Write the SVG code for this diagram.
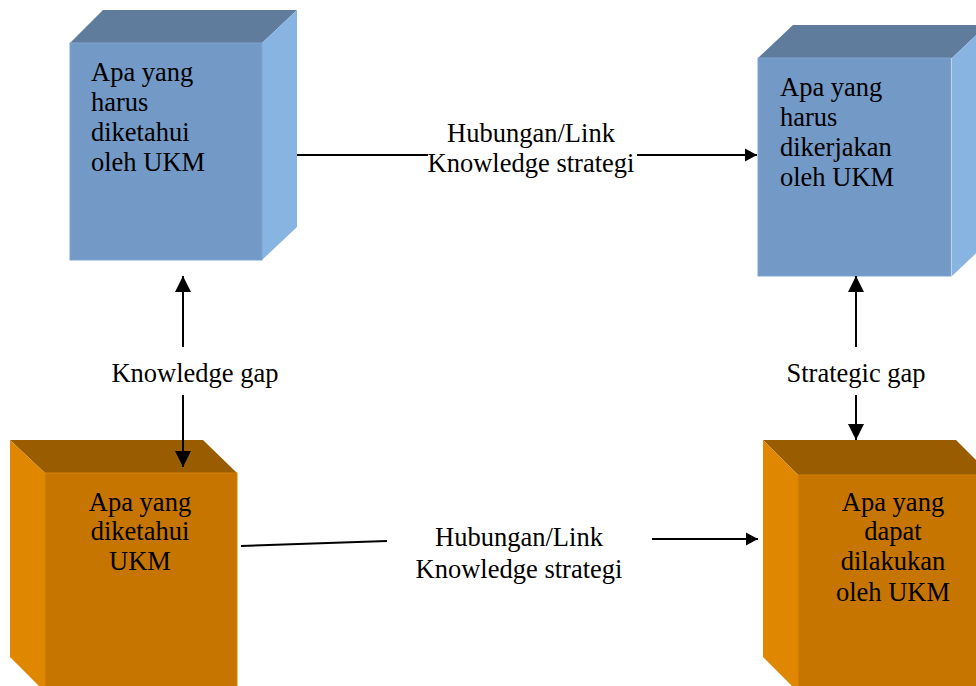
<svg xmlns="http://www.w3.org/2000/svg" width="976" height="686" viewBox="0 0 976 686">
<defs>
<style>
.t{font-family:"Liberation Serif","Times New Roman",serif;font-size:26.5px;fill:#000}
.c{text-anchor:middle}
.bf{fill:#7399C6;stroke:#7FA5D2;stroke-width:1}
.bt{fill:#5F7C9D}
.bs{fill:#88B4E2}
.of{fill:#C67500;stroke:#D98300;stroke-width:1}
.ot{fill:#995D00}
.os{fill:#E08700}
.ln{stroke:#000;stroke-width:2;fill:none}
</style>
<marker id="ah" markerUnits="userSpaceOnUse" markerWidth="13" markerHeight="14" refX="12" refY="7" orient="auto">
<path d="M0,0.5 L12,7 L0,13.5 Z" fill="#000"/>
</marker>
<marker id="av" markerUnits="userSpaceOnUse" markerWidth="17" markerHeight="18" refX="16" refY="9" orient="auto">
<path d="M0,1 L16,9 L0,17 Z" fill="#000"/>
</marker>
</defs>
<rect width="976" height="686" fill="#fff"/>

<g id="node-harus-diketahui" font-family="Liberation Serif, serif">
<polygon class="bt" points="103,10 297,10 262,43 70,43"/>
<polygon class="bs" points="262,43 297,10 297,227 262,260"/>
<rect class="bf" x="70" y="43" width="192" height="217"/>
<text class="t" x="91" y="81">Apa yang</text>
<text class="t" x="91" y="111">harus</text>
<text class="t" x="91" y="141">diketahui</text>
<text class="t" x="91" y="171">oleh UKM</text>
</g>

<g id="node-harus-dikerjakan" font-family="Liberation Serif, serif">
<polygon class="bt" points="793,25 987,25 952,58 758,58"/>
<polygon class="bs" points="952,58 987,25 987,243 952,276"/>
<rect class="bf" x="758" y="58" width="193" height="218"/>
<text class="t" x="780" y="96">Apa yang</text>
<text class="t" x="780" y="126">harus</text>
<text class="t" x="780" y="156">dikerjakan</text>
<text class="t" x="780" y="186">oleh UKM</text>
</g>

<g id="node-diketahui" font-family="Liberation Serif, serif">
<polygon class="ot" points="10,440 203,440 237,473 45,473"/>
<polygon class="os" points="10,440 45,473 45,692 10,657"/>
<rect class="of" x="45" y="473" width="192" height="220"/>
<text class="t c" x="140" y="511">Apa yang</text>
<text class="t c" x="140" y="540">diketahui</text>
<text class="t c" x="140" y="570">UKM</text>
</g>

<g id="node-dapat-dilakukan" font-family="Liberation Serif, serif">
<polygon class="ot" points="763,440 956,440 991,475 798,475"/>
<polygon class="os" points="763,440 798,475 798,692 763,657"/>
<rect class="of" x="798" y="475" width="193" height="218"/>
<text class="t c" x="893" y="511">Apa yang</text>
<text class="t c" x="893" y="540">dapat</text>
<text class="t c" x="893" y="570">dilakukan</text>
<text class="t c" x="893" y="601">oleh UKM</text>
</g>

<g id="connectors" font-family="Liberation Serif, serif">
<line class="ln" x1="297" y1="155" x2="428" y2="155"/>
<line class="ln" x1="637" y1="155" x2="757" y2="155" marker-end="url(#ah)"/>
<line class="ln" x1="241" y1="546" x2="387" y2="541"/>
<line class="ln" x1="652" y1="539" x2="758" y2="539" marker-end="url(#ah)"/>
<line class="ln" x1="183" y1="347" x2="183" y2="276" marker-end="url(#av)"/>
<line class="ln" x1="183" y1="395" x2="183" y2="467" marker-end="url(#av)"/>
<line class="ln" x1="856" y1="347" x2="856" y2="276" marker-end="url(#av)"/>
<line class="ln" x1="856" y1="395" x2="856" y2="440" marker-end="url(#av)"/>
<text class="t c" x="531" y="142">Hubungan/Link</text>
<text class="t c" x="531" y="172">Knowledge strategi</text>
<text class="t c" x="519" y="546">Hubungan/Link</text>
<text class="t c" x="519" y="578">Knowledge strategi</text>
<text class="t c" x="195" y="382">Knowledge gap</text>
<text class="t c" x="856" y="382">Strategic gap</text>
</g>
</svg>
